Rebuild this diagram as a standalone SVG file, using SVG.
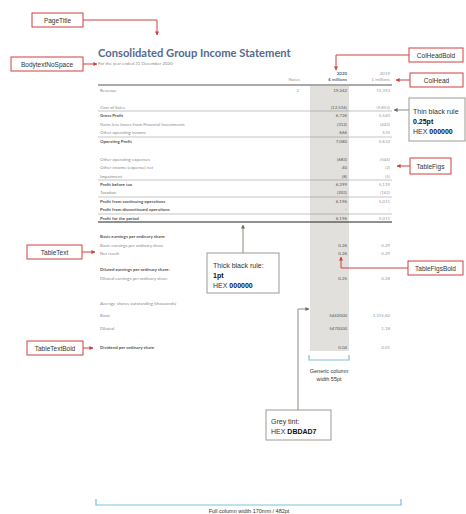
<svg xmlns="http://www.w3.org/2000/svg" width="466" height="514" viewBox="0 0 466 514">
<style>
.lbl{font-family:"Liberation Sans",Arial,sans-serif;font-size:6.5px;fill:#333}
.note{font-family:"Liberation Sans",Arial,sans-serif;font-size:7px;fill:#333}
.b{font-weight:bold;fill:#111}
.redbox{fill:#fff;stroke:#d0413d;stroke-width:1}
.greybox{fill:#fff;stroke:#9a9a92;stroke-width:1}
.red{stroke:#d0413d;stroke-width:1;fill:none}
.grey{stroke:#8c8c80;stroke-width:1;fill:none}
.blue{stroke:#7dbfdd;stroke-width:1.2;fill:none}
.tt{font-family:Lato,"Liberation Sans",sans-serif;font-size:4.4px;fill:#8a8a8a}
.tb{font-family:Lato,"Liberation Sans",sans-serif;font-size:4.4px;fill:#555;font-weight:bold}
.f20{font-family:Lato,"Liberation Sans",sans-serif;font-size:4.4px;fill:#555;text-anchor:end}
.f19{font-family:Lato,"Liberation Sans",sans-serif;font-size:4.4px;fill:#9a9a9a;text-anchor:end}
.rule{stroke:#8a8a8a;stroke-width:0.5}
.cap{font-family:"Liberation Sans",Arial,sans-serif;font-size:5.5px;fill:#333;text-anchor:middle}
</style>
<defs>
<marker id="ar" viewBox="0 0 10 10" refX="9" refY="5" markerWidth="4" markerHeight="4" orient="auto"><path d="M0,0 L10,5 L0,10 z" fill="#d0413d"/></marker>
<marker id="ag" viewBox="0 0 10 10" refX="9" refY="5" markerWidth="4" markerHeight="4" orient="auto"><path d="M0,0 L10,5 L0,10 z" fill="#6e6e60"/></marker>
</defs>
<rect width="466" height="514" fill="#fff"/>

<g id="page">
<rect x="310" y="86" width="39" height="265" fill="#e1e0dd"/>
<text x="98" y="57" font-family="Lato,'Liberation Sans',sans-serif" font-size="11.2" font-weight="bold" fill="#56698e">Consolidated Group Income Statement</text>
<text x="98" y="65" class="tt">For the year ended 31 December 2020</text>
<text x="347" y="75" class="f20" font-weight="bold" style="fill:#56698e">2020</text>
<text x="347" y="81" class="f20" font-weight="bold" style="fill:#56698e">£ millions</text>
<text x="390" y="75" class="f19">2019</text>
<text x="390" y="81" class="f19">£ millions</text>
<text x="300" y="81" class="f19">Notes</text>
<line x1="98" y1="85" x2="392" y2="85" stroke="#555" stroke-width="1"/>
<line x1="98" y1="111" x2="392" y2="111" class="rule"/>
<line x1="98" y1="137" x2="392" y2="137" class="rule"/>
<line x1="98" y1="180" x2="392" y2="180" class="rule"/>
<line x1="98" y1="197" x2="392" y2="197" class="rule"/>
<line x1="98" y1="214" x2="392" y2="214" class="rule"/>
<line x1="98" y1="222" x2="392" y2="222" stroke="#222" stroke-width="1"/>

<text x="100" y="91.5" class="tt">Revenue</text><text x="299" y="91.5" class="f19">2</text><text x="347" y="91.5" class="f20">19,242</text><text x="390" y="91.5" class="f19">15,393</text>
<text x="100" y="108.5" class="tt">Cost of Sales</text><text x="347" y="108.5" class="f20">(12,516)</text><text x="390" y="108.5" class="f19">(9,853)</text>
<text x="100" y="116.5" class="tb">Gross Profit</text><text x="347" y="116.5" class="f20">6,726</text><text x="390" y="116.5" class="f19">5,540</text>
<text x="100" y="125.5" class="tt">Gains less losses from Financial Investments</text><text x="347" y="125.5" class="f20">(312)</text><text x="390" y="125.5" class="f19">(442)</text>
<text x="100" y="133.5" class="tt">Other operating income</text><text x="347" y="133.5" class="f20">666</text><text x="390" y="133.5" class="f19">535</text>
<text x="100" y="142.5" class="tb">Operating Profit</text><text x="347" y="142.5" class="f20">7,080</text><text x="390" y="142.5" class="f19">5,632</text>
<text x="100" y="160.5" class="tt">Other operating expenses</text><text x="347" y="160.5" class="f20">(683)</text><text x="390" y="160.5" class="f19">(544)</text>
<text x="100" y="168.5" class="tt">Other income (expense) net</text><text x="347" y="168.5" class="f20">40</text><text x="390" y="168.5" class="f19">(2)</text>
<text x="100" y="177.5" class="tt">Impairment</text><text x="347" y="177.5" class="f20">(8)</text><text x="390" y="177.5" class="f19">(5)</text>
<text x="100" y="185.5" class="tb">Profit before tax</text><text x="347" y="185.5" class="f20">6,399</text><text x="390" y="185.5" class="f19">5,119</text>
<text x="100" y="193.5" class="tt">Taxation</text><text x="347" y="193.5" class="f20">(203)</text><text x="390" y="193.5" class="f19">(162)</text>
<text x="100" y="202.5" class="tb">Profit from continuing operations</text><text x="347" y="202.5" class="f20">6,196</text><text x="390" y="202.5" class="f19">5,011</text>
<text x="100" y="210.5" class="tb">Profit from discontinued operations</text><text x="347" y="210.5" class="f20">–</text><text x="390" y="210.5" class="f19">–</text>
<text x="100" y="219.5" class="tb">Profit for the period</text><text x="347" y="219.5" class="f20">6,196</text><text x="390" y="219.5" class="f19">5,011</text>
<text x="100" y="237.5" class="tb">Basic earnings per ordinary share:</text>
<text x="100" y="246.5" class="tt">Basic earnings per ordinary share</text><text x="347" y="246.5" class="f20">0.26</text><text x="390" y="246.5" class="f19">0.29</text>
<text x="100" y="254.5" class="tt">Net result</text><text x="347" y="254.5" class="f20">0.26</text><text x="390" y="254.5" class="f19">0.29</text>
<text x="100" y="270.5" class="tb">Diluted earnings per ordinary share:</text>
<text x="100" y="279.5" class="tt">Diluted earnings per ordinary share</text><text x="347" y="279.5" class="f20">0.25</text><text x="390" y="279.5" class="f19">0.28</text>
<text x="100" y="304.5" class="tt">Average shares outstanding (thousands)</text>
<text x="100" y="316.5" class="tt">Basic</text><text x="347" y="316.5" class="f20">5442000</text><text x="390" y="316.5" class="f19">1,315,60</text>
<text x="100" y="329.5" class="tt">Diluted</text><text x="347" y="329.5" class="f20">5470000</text><text x="390" y="329.5" class="f19">1.18</text>
<text x="100" y="348.5" class="tb">Dividend per ordinary share</text><text x="347" y="348.5" class="f20">0.04</text><text x="390" y="348.5" class="f19">0.01</text>
</g>

<g id="connectors">
<polyline points="83,20 157,20 157,35" class="red" marker-end="url(#ar)"/>
<line x1="83" y1="64" x2="97" y2="64" class="red" marker-end="url(#ar)"/>
<polyline points="409,55 336,55 336,70" class="red" marker-end="url(#ar)"/>
<line x1="410" y1="80" x2="396" y2="80" class="red" marker-end="url(#ar)"/>
<line x1="409" y1="110" x2="394" y2="110" class="grey" marker-end="url(#ag)"/>
<line x1="410" y1="166" x2="397" y2="166" class="red" marker-end="url(#ar)"/>
<polyline points="408,268 341,268 341,257" class="red" marker-end="url(#ar)"/>
<line x1="82" y1="252" x2="95" y2="252" class="red" marker-end="url(#ar)"/>
<line x1="83" y1="348" x2="93" y2="348" class="red" marker-end="url(#ar)"/>
<line x1="243" y1="253" x2="243" y2="225" class="grey" marker-end="url(#ag)"/>
<polyline points="298,410 298,309 309,309" class="grey" marker-end="url(#ag)"/>
<polyline points="309,355 309,360 349,360 349,355" class="blue"/>
<polyline points="96,499 96,505 401,505 401,499" class="blue"/>
</g>

<g id="PageTitle"><rect x="32" y="13" width="51" height="14" class="redbox"/><text x="57.5" y="22.5" class="lbl" text-anchor="middle">PageTitle</text></g>
<g id="BodytextNoSpace"><rect x="11" y="57" width="72" height="14" class="redbox"/><text x="47" y="66.5" class="lbl" text-anchor="middle">BodytextNoSpace</text></g>
<g id="ColHeadBold"><rect x="409" y="48" width="54" height="14" class="redbox"/><text x="436" y="57.5" class="lbl" text-anchor="middle">ColHeadBold</text></g>
<g id="ColHead"><rect x="410" y="73" width="53" height="14" class="redbox"/><text x="436.5" y="82.5" class="lbl" text-anchor="middle">ColHead</text></g>
<g id="ThinRule"><rect x="409" y="98" width="56" height="43" class="greybox"/><text x="413" y="114" class="note">Thin black rule</text><text x="413" y="124" class="note b">0.25pt</text><text x="413" y="134" class="note">HEX <tspan class="b">000000</tspan></text></g>
<g id="TableFigs"><rect x="410" y="158" width="41" height="16" class="redbox"/><text x="430.5" y="168.5" class="lbl" text-anchor="middle">TableFigs</text></g>
<g id="TableText"><rect x="27" y="245" width="55" height="14" class="redbox"/><text x="54.5" y="254.5" class="lbl" text-anchor="middle">TableText</text></g>
<g id="ThickRule"><rect x="207" y="253" width="72" height="40" class="greybox"/><text x="213" y="268" class="note">Thick black rule:</text><text x="213" y="278" class="note b">1pt</text><text x="213" y="288" class="note">HEX <tspan class="b">000000</tspan></text></g>
<g id="TableFigsBold"><rect x="408" y="261" width="55" height="14" class="redbox"/><text x="435.5" y="270.5" class="lbl" text-anchor="middle">TableFigsBold</text></g>
<g id="TableTextBold"><rect x="27" y="341" width="56" height="14" class="redbox"/><text x="55" y="350.5" class="lbl" text-anchor="middle">TableTextBold</text></g>
<g id="GenericColumn"><text x="329" y="373" class="cap">Generic column</text><text x="329" y="381" class="cap">width 55pt</text></g>
<g id="GreyTint"><rect x="266" y="410" width="65" height="30" class="greybox"/><text x="271" y="424" class="note">Grey tint:</text><text x="271" y="434" class="note">HEX <tspan class="b">DBDAD7</tspan></text></g>
<g id="FullColumn"><text x="249" y="513" class="cap">Full column width 170mm / 482pt</text></g>
</svg>
